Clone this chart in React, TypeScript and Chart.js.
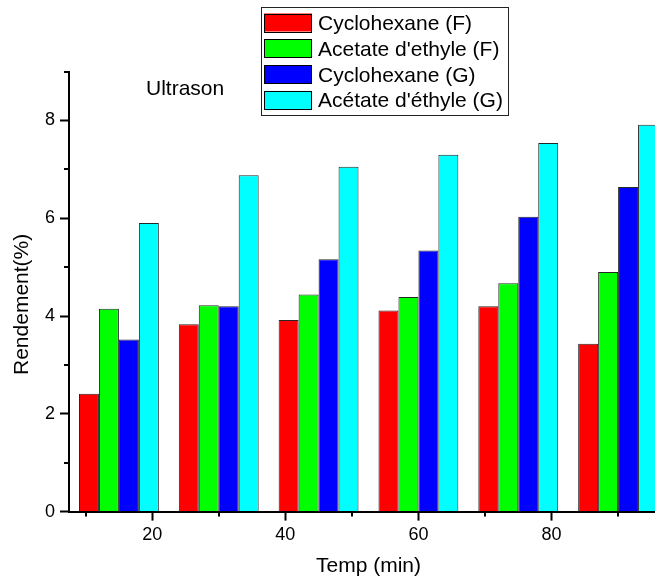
import React, { useEffect, useRef } from 'react';
import { Chart, registerables } from 'chart.js';

Chart.register(...registerables);

// ---- data ----
const categories = [15, 30, 45, 60, 75, 90];
const cyclohexaneF = [2.41, 3.83, 3.92, 4.11, 4.2, 3.43];
const acetateF = [4.15, 4.22, 4.44, 4.39, 4.67, 4.9];
const cyclohexaneG = [3.52, 4.2, 5.16, 5.34, 6.03, 6.64];
const acetateG = [5.9, 6.88, 7.05, 7.3, 7.54, 7.91];
const seriesLabels = ['Cyclohexane (F)', "Acetate d'ethyle (F)", 'Cyclohexane (G)', "Acétate d'éthyle (G)"];
const seriesColors = ['#FF0000', '#00FF00', '#0000FF', '#00FFFF'];
const xMajorTicks = [20, 40, 60, 80];
const xMinorTicks = [10, 30, 50, 70, 90];
const yMajorTicks = [0, 2, 4, 6, 8];
const yMinorTicks = [1, 3, 5, 7, 9];
const yMin = 0;
const yMax = 9;
const xTitle = 'Temp (min)';
const yTitle = 'Rendement(%)';
const annotation = 'Ultrason';

const FONT = '"Liberation Sans", Arial, sans-serif';
const W = 700;
const H = 579;

const overlayPlugin = {
  id: 'overlay',
  afterDraw(chart: any) {
    const ctx = chart.ctx as CanvasRenderingContext2D;
    const area = chart.chartArea;
    const xs = chart.scales.x2;
    const ys = chart.scales.y;
    ctx.save();
    // minor ticks
    ctx.strokeStyle = '#000';
    ctx.lineWidth = 2;
    for (const v of xMinorTicks) {
      const px = Math.round(xs.getPixelForValue(v));
      ctx.beginPath();
      ctx.moveTo(px, area.bottom);
      ctx.lineTo(px, area.bottom + 5);
      ctx.stroke();
    }
    for (const v of yMinorTicks) {
      const py = Math.round(ys.getPixelForValue(v));
      ctx.beginPath();
      ctx.moveTo(area.left, py);
      ctx.lineTo(area.left - 5, py);
      ctx.stroke();
    }
    // y title
    ctx.fillStyle = '#000';
    ctx.font = `21px ${FONT}`;
    ctx.save();
    ctx.translate(28, 375);
    ctx.rotate(-Math.PI / 2);
    ctx.textAlign = 'left';
    ctx.textBaseline = 'alphabetic';
    ctx.fillText(yTitle, 0, 0);
    ctx.restore();
    // annotation
    ctx.textAlign = 'left';
    ctx.textBaseline = 'alphabetic';
    ctx.fillText(annotation, 146, 95);
    // legend
    const lx = 261, ly = 7, lw = 247, lh = 108;
    ctx.fillStyle = '#fff';
    ctx.fillRect(lx, ly, lw, lh);
    ctx.strokeStyle = '#222';
    ctx.lineWidth = 1;
    ctx.strokeRect(lx + 0.5, ly + 0.5, lw, lh);
    const datasets = chart.data.datasets;
    for (let i = 0; i < datasets.length; i++) {
      const cy = 22.5 + i * 25.8;
      ctx.fillStyle = datasets[i].backgroundColor;
      ctx.fillRect(264, cy - 9, 48, 18);
      ctx.strokeStyle = '#000';
      ctx.lineWidth = 1;
      ctx.strokeRect(264.5, Math.round(cy - 9) + 0.5, 47, 18);
      ctx.fillStyle = '#000';
      ctx.font = `21px ${FONT}`;
      ctx.fillText(datasets[i].label, 318, cy + 7.5);
    }
    ctx.restore();
  },
};

export default function App() {
  const ref = useRef<HTMLCanvasElement | null>(null);
  useEffect(() => {
    if (!ref.current) return;
    const step = categories[1] - categories[0];
    const xMin = categories[0] - step / 2;
    const xMax = categories[categories.length - 1] + step / 2;
    const values = [cyclohexaneF, acetateF, cyclohexaneG, acetateG];
    const chart = new Chart(ref.current, {
      type: 'bar',
      data: {
        labels: categories.map(String),
        datasets: values.map((d, i) => ({
          label: seriesLabels[i],
          data: d,
          backgroundColor: seriesColors[i],
          borderColor: 'rgba(0,0,0,0.85)',
          borderWidth: 1,
          borderSkipped: 'bottom',
          categoryPercentage: 0.8,
          barPercentage: 1,
          xAxisID: 'x',
          yAxisID: 'y',
        })),
      },
      options: {
        responsive: false,
        animation: false,
        devicePixelRatio: 1,
        color: '#000',
        layout: { padding: { left: 0, top: 71.5, right: 32, bottom: 0 } },
        plugins: { legend: { display: false }, tooltip: { enabled: false } },
        scales: {
          x: { type: 'category', display: false, offset: true },
          x2: {
            type: 'linear',
            position: 'bottom',
            min: xMin,
            max: xMax,
            offset: false,
            afterFit: (s: any) => { s.height = H - 511.6; },
            afterBuildTicks: (s: any) => { s.ticks = xMajorTicks.map((v) => ({ value: v })); },
            ticks: {
              color: '#000',
              font: { family: FONT, size: 18 },
              padding: 4,
              maxRotation: 0,
              callback: (v: any) => String(v),
            },
            grid: { display: true, offset: false, drawOnChartArea: false, drawTicks: true, tickLength: 9, tickWidth: 2, tickColor: '#000' },
            border: { display: true, color: '#000', width: 2 },
            title: { display: true, text: xTitle, color: '#000', font: { family: FONT, size: 21 }, padding: { top: 0, bottom: 0 } },
          },
          y: {
            type: 'linear',
            min: yMin,
            max: yMax,
            offset: false,
            afterFit: (s: any) => { s.width = 69; },
            afterBuildTicks: (s: any) => { s.ticks = yMajorTicks.map((v) => ({ value: v })); },
            ticks: {
              color: '#000',
              font: { family: FONT, size: 18 },
              padding: 5,
              callback: (v: any) => String(v),
            },
            grid: { display: true, offset: false, drawOnChartArea: false, drawTicks: true, tickLength: 9, tickWidth: 2, tickColor: '#000' },
            border: { display: true, color: '#000', width: 2 },
          },
        },
      },
      plugins: [overlayPlugin],
    } as any);
    return () => chart.destroy();
  }, []);
  return (
    <div style={{ position: 'fixed', left: 0, top: 0, width: 655, height: H, overflow: 'hidden', background: '#fff' }}>
      <canvas ref={ref} width={W} height={H} style={{ width: W, height: H, display: 'block' }} />
    </div>
  );
}
